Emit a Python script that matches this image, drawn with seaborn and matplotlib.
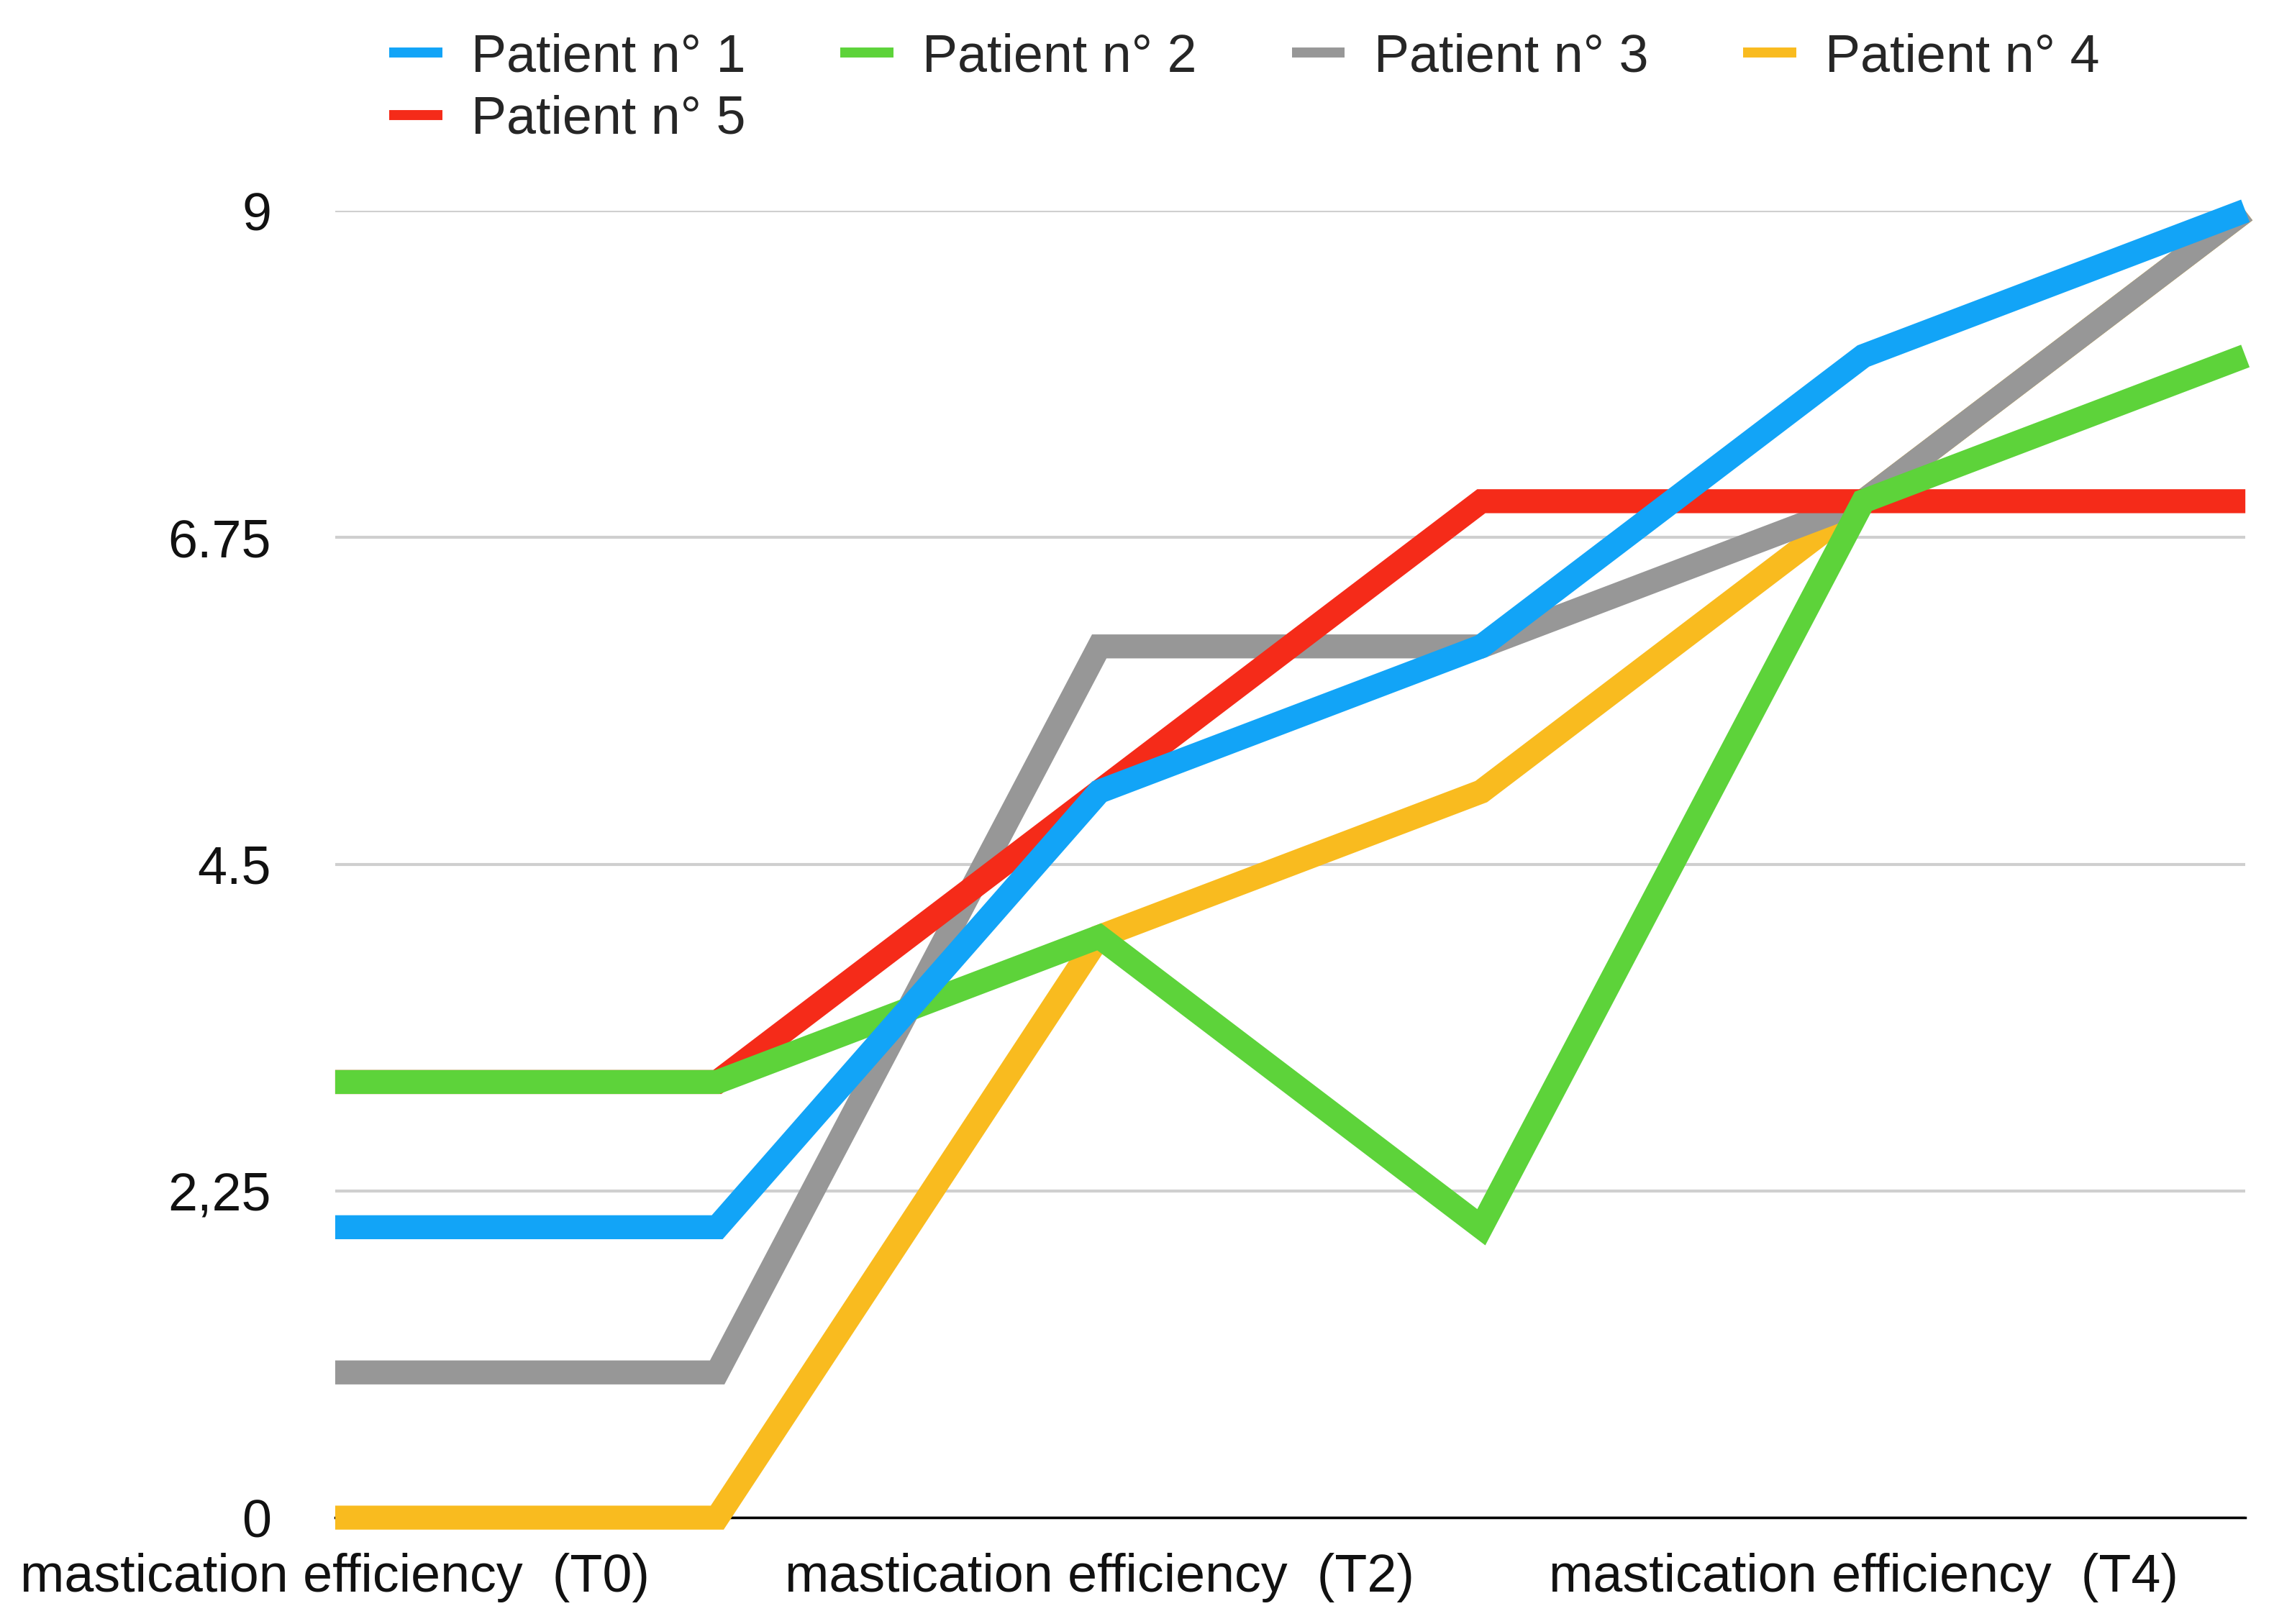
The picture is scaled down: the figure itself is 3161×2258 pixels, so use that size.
import pandas as pd
import seaborn as sns
import matplotlib.pyplot as plt

# scores per time point (T0..T5), one list per patient
timepoints = [0, 1, 2, 3, 4, 5]
patient1 = [2, 2, 5, 6, 8, 9]
patient2 = [3, 3, 4, 2, 7, 8]
patient3 = [1, 1, 6, 6, 7, 9]
patient4 = [0, 0, 4, 5, 7, 9]
patient5 = [3, 3, 5, 7, 7, 7]

patients = ['Patient n° 1', 'Patient n° 2', 'Patient n° 3', 'Patient n° 4', 'Patient n° 5']
colors = ['#12a4f7', '#5dd33a', '#979797', '#f9bb1f', '#f52b19']
# drawing order, bottom to top
zorders = [7, 6, 4, 3, 5]

xtick_pos = [0, 2, 4]
xtick_labels = ['mastication efficiency  (T0)', 'mastication efficiency  (T2)',
                'mastication efficiency  (T4)']
ytick_pos = [0, 2.25, 4.5, 6.75, 9]
ytick_labels = ['0', '2,25', '4.5', '6.75', '9']

rows = []
for name, vals in zip(patients, [patient1, patient2, patient3, patient4, patient5]):
    for t, v in zip(timepoints, vals):
        rows.append({'time': t, 'score': v, 'patient': name})
df = pd.DataFrame(rows)

sns.set_style('white')
plt.rcParams['font.family'] = ['Liberation Sans', 'DejaVu Sans']

fig = plt.figure(figsize=(31.61, 22.58), dpi=100)
ax = fig.add_axes([0.1474, 0.0655, 0.840, 0.8047])

sns.lineplot(data=df, x='time', y='score', hue='patient', hue_order=patients,
             palette=colors, estimator=None, linewidth=24,
             solid_capstyle='butt', solid_joinstyle='miter', ax=ax)

for line, z in zip(ax.lines, zorders):
    line.set_zorder(z)
    line.set_clip_on(False)

handles, labels = ax.get_legend_handles_labels()
ax.get_legend().remove()

ax.set_xlim(0, 5)
ax.set_ylim(0, 9)
ax.set_xticks(xtick_pos)
ax.set_xticklabels(xtick_labels)
ax.set_yticks(ytick_pos)
ax.set_yticklabels(ytick_labels)
ax.set_xlabel('')
ax.set_ylabel('')
ax.tick_params(axis='both', length=0, labelsize=53, colors='#111111')
ax.tick_params(axis='y', pad=64)
ax.tick_params(axis='x', pad=35)

ax.grid(axis='y', color='#cfcfcf', linewidth=3, zorder=0)
ax.set_axisbelow(True)
for side in ['top', 'right', 'left']:
    ax.spines[side].set_visible(False)
ax.spines['bottom'].set_color('black')
ax.spines['bottom'].set_linewidth(2.5)
ax.spines['bottom'].set_zorder(2)

# legend fills column-wise, reorder so rows read 1-4 then 5
order = [0, 4, 1, 2, 3]
leg = fig.legend([handles[i] for i in order], [labels[i] for i in order],
                 loc='upper left', bbox_to_anchor=(541 / 3161, 0.980),
                 ncol=4, frameon=False, fontsize=53, handlelength=1.0,
                 handletextpad=0.55, columnspacing=1.79, borderpad=0,
                 borderaxespad=0, labelspacing=0.24)
for h in leg.legend_handles:
    h.set_linewidth(10)
    h.set_solid_capstyle('butt')

fig.savefig('out.png', dpi=100)
